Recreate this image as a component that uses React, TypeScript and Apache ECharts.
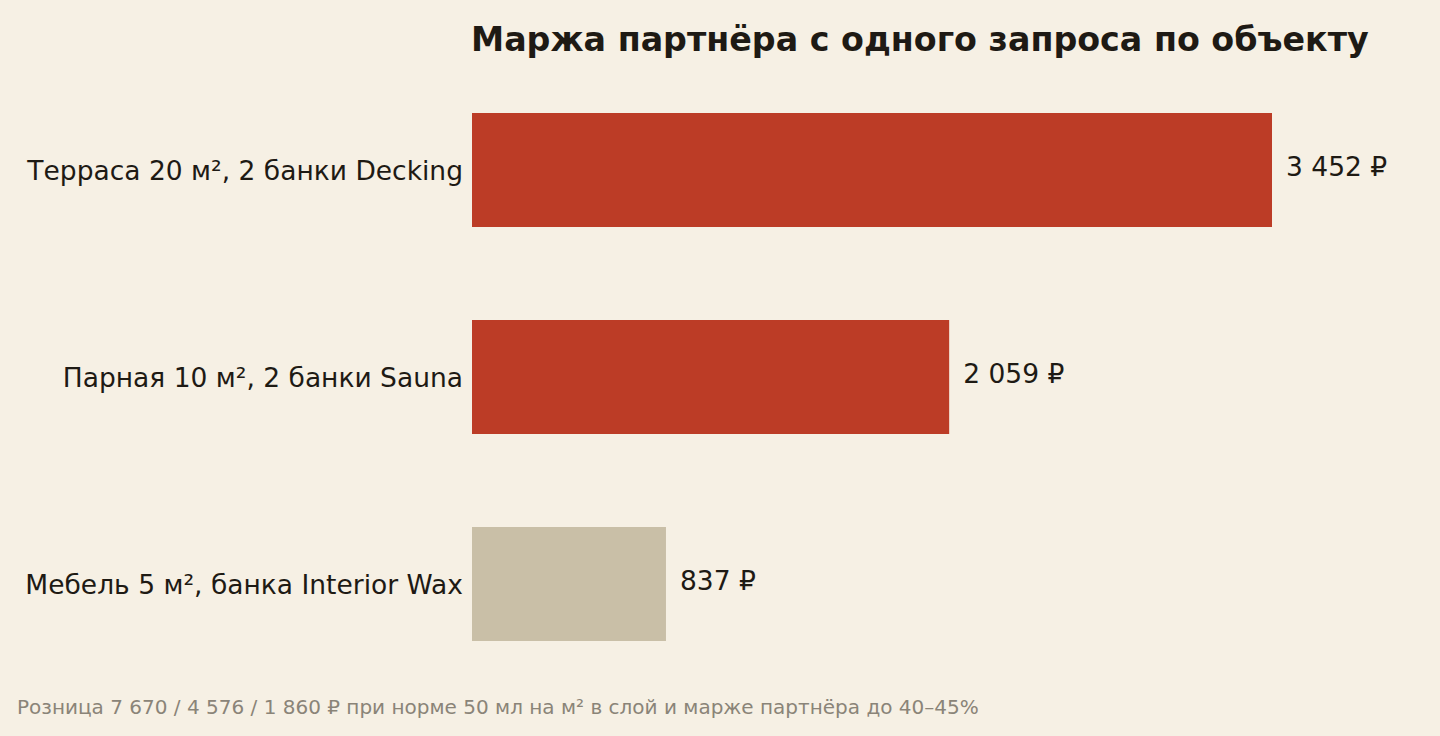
import React, { useEffect, useRef } from "react";
import * as echarts from "echarts";

const categories = [
  "Терраса 20 м², 2 банки Decking",
  "Парная 10 м², 2 банки Sauna",
  "Мебель 5 м², банка Interior Wax",
];
const values = [3452, 2059, 837];
const valueLabels = ["3 452 ₽", "2 059 ₽", "837 ₽"];
const barColors = ["#BC3C26", "#BC3C26", "#C9BFA7"];
const titleText = "Маржа партнёра с одного запроса по объекту";
const footnote = "Розница 7 670 / 4 576 / 1 860 ₽ при норме 50 мл на м² в слой и марже партнёра до 40–45%";

export default function App() {
  const ref = useRef<HTMLDivElement>(null);
  useEffect(() => {
    document.body.style.margin = "0";
    const chart = echarts.init(ref.current!, null, { renderer: "svg" });
    const font = "DejaVu Sans";
    chart.setOption({
      animation: false,
      backgroundColor: "#F6F0E4",
      title: {
        text: titleText,
        left: 466,
        top: 18,
        textStyle: { fontFamily: font, fontSize: 33.3, fontWeight: "bold", color: "#1E1A14" },
      },
      graphic: [
        {
          type: "text",
          left: 17,
          top: 697,
          style: { text: footnote, font: `20px "${font}"`, fill: "#8A8478" },
        },
      ],
      grid: { left: 472, top: 66.5, width: 800, height: 621, containLabel: false },
      xAxis: {
        type: "value",
        min: 0,
        max: 3452,
        show: false,
      },
      yAxis: {
        type: "category",
        data: categories,
        inverse: true,
        axisLine: { show: false },
        axisTick: { show: false },
        splitLine: { show: false },
        axisLabel: {
          margin: 9,
          fontFamily: font,
          fontSize: 26.5,
          color: "#1E1A14",
          padding: [10, 0, 0, 0],
        },
      },
      series: [
        {
          type: "bar",
          data: values.map((v, i) => ({ value: v, itemStyle: { color: barColors[i] } })),
          barCategoryGap: "45%",
          label: {
            show: true,
            position: "right",
            distance: 14,
            offset: [0, -4],
            fontFamily: font,
            fontSize: 26.5,
            color: "#1E1A14",
            formatter: (p: any) => valueLabels[p.dataIndex],
          },
        },
      ],
    });
    return () => chart.dispose();
  }, []);
  return <div ref={ref} style={{ width: 1440, height: 736 }} />;
}
